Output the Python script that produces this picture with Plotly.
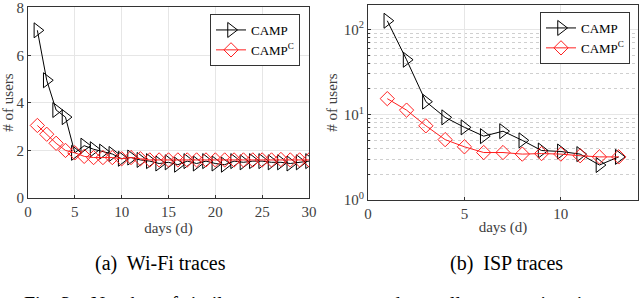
import plotly.graph_objects as go

W, H = 640, 298

# ---------- data ----------
wifi_days = list(range(1, 31))
wifi_camp = [7.05, 4.95, 3.7, 3.4, 1.9, 2.2, 2.05, 1.95, 1.85, 1.65,
             1.7, 1.6, 1.55, 1.45, 1.5, 1.4, 1.55, 1.45, 1.55, 1.45,
             1.4, 1.55, 1.5, 1.55, 1.55, 1.5, 1.5, 1.45, 1.5, 1.55]
wifi_campc = [3.05, 2.68, 2.3, 2.0, 1.9, 1.75, 1.7, 1.7, 1.7, 1.65,
              1.7, 1.65, 1.6, 1.6, 1.6, 1.6, 1.6, 1.6, 1.6, 1.6,
              1.6, 1.6, 1.6, 1.6, 1.6, 1.6, 1.62, 1.6, 1.6, 1.6]

isp_days = list(range(1, 14))
isp_camp = [126, 44, 14.2, 9.3, 7.1, 5.6, 6.4, 5.0, 3.8, 3.7, 3.45, 2.57, 3.2]
isp_campc = [15.4, 11.3, 7.4, 5.1, 4.2, 3.6, 3.6, 3.45, 3.5, 3.45, 3.3, 3.2, 3.2]

series_names = ["CAMP", "CAMP<sup>C</sup>"]
captions = ["(a)  Wi-Fi traces", "(b)  ISP traces"]

FONT = "Liberation Serif"
GRID = "#e6e6e6"
TICKC = "#404040"

def px_x(p):
    return p / W

def px_y(p):
    return 1 - p / H

fig = go.Figure()

camp_style = dict(mode="lines+markers", line=dict(color="black", width=1),
                  marker=dict(symbol="triangle-right-open", size=13, color="black",
                              line=dict(width=1)))
campc_style = dict(mode="lines+markers", line=dict(color="#ff2020", width=1),
                   marker=dict(symbol="diamond-open", size=11, color="#ff2020",
                               line=dict(width=1)))

fig.add_trace(go.Scatter(x=wifi_days, y=wifi_camp, name=series_names[0],
                         xaxis="x", yaxis="y", legend="legend", **camp_style))
fig.add_trace(go.Scatter(x=wifi_days, y=wifi_campc, name=series_names[1],
                         xaxis="x", yaxis="y", legend="legend", **campc_style))
fig.add_trace(go.Scatter(x=isp_days, y=isp_camp, name=series_names[0],
                         xaxis="x2", yaxis="y2", legend="legend2", **camp_style))
fig.add_trace(go.Scatter(x=isp_days, y=isp_campc, name=series_names[1],
                         xaxis="x2", yaxis="y2", legend="legend2", **campc_style))

axis_common = dict(showline=True, linecolor="#333333", linewidth=1, mirror=True,
                   ticks="inside", ticklen=3, tickcolor="#333333",
                   showgrid=True, gridcolor=GRID, gridwidth=1, zeroline=False,
                   automargin=False, ticklabeloverflow="allow",
                   tickfont=dict(family=FONT, size=15, color=TICKC))

title_font = dict(family=FONT, size=15, color=TICKC)

fig.update_layout(
    width=W, height=H,
    margin=dict(l=0, r=0, t=0, b=0),
    paper_bgcolor="white", plot_bgcolor="white",
    font=dict(family=FONT),
    xaxis=dict(domain=[px_x(28), px_x(309)], range=[0, 30], tickvals=[0, 5, 10, 15, 20, 25, 30],
               anchor="y", title=dict(text="days (d)", font=title_font, standoff=0), **axis_common),
    yaxis=dict(domain=[px_y(198), px_y(7)], range=[0, 8.03], tickmode="linear", tick0=0, dtick=2,
               anchor="x", title=dict(text="# of users", font=title_font, standoff=2), **axis_common),
    xaxis2=dict(domain=[px_x(368), px_x(638)], range=[0, 14], tickvals=[0, 5, 10],
                anchor="y2", title=dict(text="days (d)", font=title_font, standoff=0), **axis_common),
    yaxis2=dict(domain=[px_y(200), px_y(5)], type="log", range=[0, 2.285],
                tickvals=[1, 10, 100], ticktext=["10<sup>0</sup>", "10<sup>1</sup>", "10<sup>2</sup>"],
                minor=dict(tickvals=[2, 3, 4, 5, 6, 7, 8, 9, 20, 30, 40, 50, 60, 70, 80, 90, 200],
                           showgrid=True, gridcolor="#cfcfcf", griddash="dot", ticks="inside",
                           ticklen=2, tickcolor="#333333"),
                anchor="x2", title=dict(text="# of users", font=title_font, standoff=2), **axis_common),
    legend=dict(x=px_x(300), y=px_y(14), xanchor="right", yanchor="top",
                bgcolor="white", bordercolor="#333333", borderwidth=1,
                font=dict(family=FONT, size=13, color="black"),
                tracegroupgap=0, itemwidth=30),
    legend2=dict(x=px_x(630), y=px_y(12), xanchor="right", yanchor="top",
                 bgcolor="white", bordercolor="#333333", borderwidth=1,
                 font=dict(family=FONT, size=13, color="black"),
                 tracegroupgap=0, itemwidth=30),
    annotations=[
        dict(text=captions[0], x=px_x(160), y=px_y(263), xref="paper", yref="paper",
             xanchor="center", yanchor="middle",
             showarrow=False, font=dict(family=FONT, size=20, color="black")),
        dict(text=captions[1], x=px_x(506), y=px_y(263), xref="paper", yref="paper",
             xanchor="center", yanchor="middle",
             showarrow=False, font=dict(family=FONT, size=20, color="black")),
        dict(text="Fig. 3.   Number of similar users per group and overall computation time",
             x=px_x(22), y=px_y(291), xref="paper", yref="paper", xanchor="left", yanchor="top",
             showarrow=False, font=dict(family=FONT, size=20, color="black")),
    ],
)

fig.write_html("out.html", config={"displayModeBar": False},
               post_script="document.body.style.margin='0';document.body.style.overflow='hidden';")
